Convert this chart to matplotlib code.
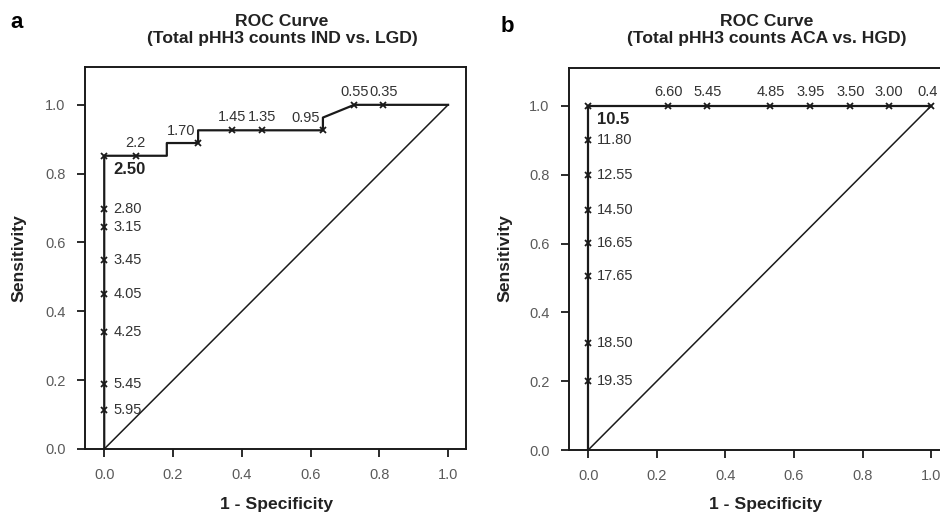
import matplotlib
matplotlib.use('Agg')
import matplotlib.pyplot as plt

plt.rcParams['font.family'] = ['Liberation Sans', 'DejaVu Sans']

# ---- panel a: IND vs. LGD ----
a_fpr = [0.0, 0.0, 0.182, 0.182, 0.273, 0.273, 0.636, 0.636, 0.727, 1.0]
a_tpr = [0.0, 0.852, 0.852, 0.889, 0.889, 0.926, 0.926, 0.963, 1.0, 1.0]
a_mark_x = [0.0, 0.0, 0.0, 0.0, 0.0, 0.0, 0.0, 0.0, 0.091, 0.273, 0.373, 0.460, 0.636, 0.727, 0.812]
a_mark_y = [0.114, 0.189, 0.339, 0.451, 0.550, 0.646, 0.696, 0.852, 0.852, 0.889, 0.926, 0.926, 0.926, 1.0, 1.0]
a_labels = ['5.95', '5.45', '4.25', '4.05', '3.45', '3.15', '2.80', '2.50',
            '2.2', '1.70', '1.45', '1.35', '0.95', '0.55', '0.35']

# ---- panel b: ACA vs. HGD ----
b_fpr = [0.0, 0.0, 1.0]
b_tpr = [0.0, 1.0, 1.0]
b_mark_x = [0.0, 0.0, 0.0, 0.0, 0.0, 0.0, 0.0, 0.0, 0.233, 0.347, 0.531, 0.648, 0.764, 0.876, 1.0]
b_mark_y = [0.2, 0.31, 0.507, 0.602, 0.696, 0.8, 0.9, 1.0, 1.0, 1.0, 1.0, 1.0, 1.0, 1.0, 1.0]
b_labels = ['19.35', '18.50', '17.65', '16.65', '14.50', '12.55', '11.80', '10.5',
            '6.60', '5.45', '4.85', '3.95', '3.50', '3.00', '0.4']

ticks = [0.0, 0.2, 0.4, 0.6, 0.8, 1.0]
tick_labels = ['0.0', '0.2', '0.4', '0.6', '0.8', '1.0']

fig = plt.figure(figsize=(9.4, 5.14), dpi=100)
ax_a = fig.add_axes([0.0904, 0.1265, 0.4053, 0.7432])
ax_b = fig.add_axes([0.6053, 0.1245, 0.4043, 0.7432])

ink = '#1a1a1a'
grey = '#5a5a5a'
txt = '#333333'


def style(ax):
    ax.set_xlim(-0.056, 1.052)
    ax.set_ylim(0.0, 1.11)
    ax.set_xticks(ticks)
    ax.set_xticklabels(tick_labels)
    ax.set_yticks(ticks)
    ax.set_yticklabels(tick_labels)
    ax.tick_params(direction='out', length=6, width=1.3, color=ink,
                   labelsize=10.5, labelcolor=grey, pad=8)
    for s in ax.spines.values():
        s.set_linewidth(1.4)
        s.set_color(ink)
        s.set_clip_on(False)


# panel a
style(ax_a)
ax_a.plot([0, 1], [0, 1], color=ink, lw=1.1)
ax_a.plot(a_fpr, a_tpr, color=ink, lw=1.6)
ax_a.plot(a_mark_x, a_mark_y, 'x', color=ink, ms=4.5, mew=1.3)
for x, y, t in zip(a_mark_x, a_mark_y, a_labels):
    if t == '2.50':
        ax_a.annotate(t, (x, y), xytext=(9, -14), textcoords='offset pixels',
                      ha='left', va='center', fontsize=12, fontweight='bold', color='#222222')
    elif x == 0.0:
        ax_a.annotate(t, (x, y), xytext=(9, 0), textcoords='offset pixels',
                      ha='left', va='center', fontsize=10.5, color=txt)
    elif t in ('1.70', '0.95'):
        ax_a.annotate(t, (x, y), xytext=(-17, 12), textcoords='offset pixels',
                      ha='center', va='center', fontsize=10.5, color=txt)
    else:
        ax_a.annotate(t, (x, y), xytext=(0, 13), textcoords='offset pixels',
                      ha='center', va='center', fontsize=10.5, color=txt)

# panel b
style(ax_b)
ax_b.plot([0, 1], [0, 1], color=ink, lw=1.1)
ax_b.plot(b_fpr, b_tpr, color=ink, lw=1.6)
ax_b.plot(b_mark_x, b_mark_y, 'x', color=ink, ms=4.5, mew=1.3)
for x, y, t in zip(b_mark_x, b_mark_y, b_labels):
    if t == '10.5':
        ax_b.annotate(t, (x, y), xytext=(9, -14), textcoords='offset pixels',
                      ha='left', va='center', fontsize=12, fontweight='bold', color='#222222')
    elif x == 0.0:
        ax_b.annotate(t, (x, y), xytext=(9, 0), textcoords='offset pixels',
                      ha='left', va='center', fontsize=10.5, color=txt)
    elif t == '0.4':
        ax_b.annotate(t, (x, y), xytext=(-14, 14), textcoords='offset pixels',
                      ha='left', va='center', fontsize=10.5, color=txt)
    else:
        ax_b.annotate(t, (x, y), xytext=(0, 14), textcoords='offset pixels',
                      ha='center', va='center', fontsize=10.5, color=txt)

# titles, axis labels, panel letters
head = dict(ha='center', va='center', fontsize=12.6, fontweight='bold', color='#222222')
fig.text(282 / 940, 1 - 22 / 514, 'ROC Curve', **head)
fig.text(282 / 940, 1 - 39 / 514, '(Total pHH3 counts IND vs. LGD)', **head)
fig.text(767 / 940, 1 - 22 / 514, 'ROC Curve', **head)
fig.text(767 / 940, 1 - 39 / 514, '(Total pHH3 counts ACA vs. HGD)', **head)

fig.text(277 / 940, 1 - 505 / 514, '1 - Specificity', **head)
fig.text(766 / 940, 1 - 505 / 514, '1 - Specificity', **head)
fig.text(19 / 940, 1 - 258 / 514, 'Sensitivity', rotation=90, **head)
fig.text(505 / 940, 1 - 258 / 514, 'Sensitivity', rotation=90, **head)

fig.text(17 / 940, 1 - 22 / 514, 'a', ha='center', va='center', fontsize=16, fontweight='bold')
fig.text(507 / 940, 1 - 26 / 514, 'b', ha='center', va='center', fontsize=16, fontweight='bold')

plt.savefig('out.png', dpi=100)
